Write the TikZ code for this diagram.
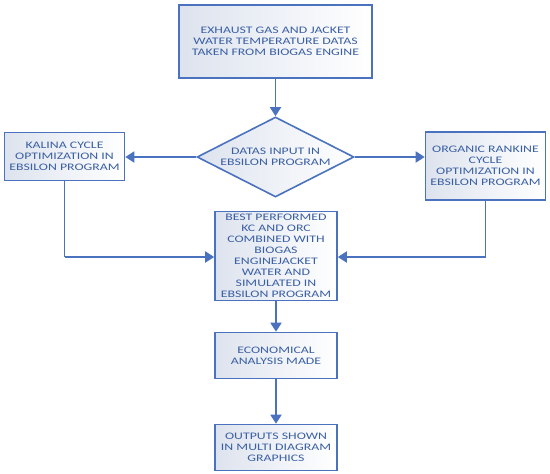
\documentclass[tikz,border=0pt]{standalone}
\usepackage{fontspec}
\setmainfont{Carlito}[FakeStretch=1.38]
\usetikzlibrary{shapes.geometric,arrows.meta}
\definecolor{bord}{HTML}{4A72BE}
\definecolor{txt}{HTML}{3A5FA3}
\definecolor{shade}{HTML}{DDE3EE}
\begin{document}
\begin{tikzpicture}[x=1pt,y=-1pt,
  box/.style={draw=bord,line width=1.6pt,left color=shade,right color=white,
    text=txt,align=center,inner sep=0pt,font=\fontsize{10}{11}\selectfont},
  dia/.style={draw=bord,line width=1.6pt,diamond,aspect=1.95,left color=shade,right color=white,
    text=txt,align=center,inner sep=0pt,font=\fontsize{10}{11}\selectfont},
  arr/.style={draw=bord,line width=1.8pt,-{Triangle[length=9pt,width=11pt]}},
  ln/.style={draw=bord,line width=1.8pt}]
\useasboundingbox (0,0) rectangle (550,474);
\node[box,minimum width=193pt,minimum height=73pt] (top) at (275.5,41.5)
  {EXHAUST GAS AND JACKET\\WATER TEMPERATURE DATAS\\TAKEN FROM BIOGAS ENGINE};
\node[dia,minimum width=157pt,minimum height=80pt] (dat) at (275.5,157)
  {DATAS INPUT IN\\EBSILON PROGRAM};
\node[box,minimum width=120pt,minimum height=48pt] (kal) at (64.5,156.5)
  {KALINA CYCLE\\OPTIMIZATION IN\\EBSILON PROGRAM};
\node[box,minimum width=120pt,minimum height=68pt] (orc) at (485.5,166)
  {ORGANIC RANKINE\\CYCLE\\OPTIMIZATION IN\\EBSILON PROGRAM};
\node[box,minimum width=122pt,minimum height=89pt] (best) at (276,256)
  {BEST PERFORMED\\KC AND ORC\\COMBINED WITH\\BIOGAS\\ENGINEJACKET\\WATER AND\\SIMULATED IN\\EBSILON PROGRAM};
\node[box,minimum width=122pt,minimum height=46pt] (eco) at (276,355.5)
  {ECONOMICAL\\ANALYSIS MADE};
\node[box,minimum width=122pt,minimum height=46pt] (out) at (276,447.5)
  {OUTPUTS SHOWN\\IN MULTI DIAGRAM\\GRAPHICS};
\draw[arr] (top.south) -- (dat.north);
\draw[arr] (dat.west) -- (kal.east |- dat.west);
\draw[arr] (dat.east) -- (orc.west |- dat.east);
\draw[ln] (kal.south) -- (kal.south |- 0,257) coordinate (kc);
\draw[arr] (kc) -- (best.west |- kc);
\draw[ln] (orc.south) -- (orc.south |- 0,257) coordinate (oc);
\draw[arr] (oc) -- (best.east |- oc);
\draw[arr] (best.south) -- (eco.north);
\draw[arr] (eco.south) -- (out.north);
\end{tikzpicture}
\end{document}
